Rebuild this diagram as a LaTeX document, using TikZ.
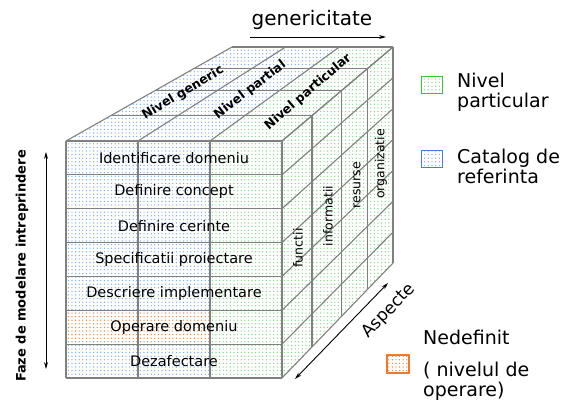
\documentclass[tikz,border=0pt]{standalone}
\usepackage{fontspec}
\setmainfont{DejaVu Sans}
\usepackage{tikz}
\usetikzlibrary{calc,patterns,arrows.meta}
\definecolor{catblue}{RGB}{110,165,240}
\definecolor{partgreen}{RGB}{120,212,120}
\definecolor{undeforange}{RGB}{240,120,40}
\definecolor{legblue}{RGB}{70,120,240}
\definecolor{leggreen}{RGB}{50,200,50}
\pgfdeclarepatternformonly{celldots}{\pgfqpoint{-1pt}{-1pt}}{\pgfqpoint{1pt}{1pt}}{\pgfqpoint{3.6pt}{3.6pt}}%
  {\pgfpathcircle{\pgfqpoint{0pt}{0pt}}{.68pt}\pgfusepath{fill}}

\begin{document}
\begin{tikzpicture}[x=1pt,y=-1pt,
  edge/.style={draw=black!50,line width=1.1pt},
  catalog/.style={pattern=celldots,pattern color=catblue},
  partic/.style={pattern=celldots,pattern color=partgreen},
  undef/.style={pattern=celldots,pattern color=undeforange},
  phase/.style={font=\fontsize{14.5}{16}\selectfont},
  level/.style={font=\bfseries\fontsize{12.5}{14}\selectfont},
  aspect/.style={font=\fontsize{12.5}{14}\selectfont,rotate=90},
  legtext/.style={font=\fontsize{19}{20}\selectfont,align=left,anchor=north west,inner sep=0pt},
  legbox/.style={minimum width=21pt,minimum height=17pt,inner sep=0pt,line width=1.3pt},
  >={Stealth[length=7pt,width=4pt]}]
  \useasboundingbox (0,0) rectangle (564,403);

  % Corners of the block
  \coordinate (ftl) at (66,141);
  \coordinate (ftr) at (282,141);
  \coordinate (fbl) at (66,378);
  \coordinate (fbr) at (282,378);
  \coordinate (btl) at (232,47);
  \coordinate (btr) at (393,47);
  \coordinate (bbr) at (393,263);

  % Fill the faces
  \fill[catalog] (ftl) -- ($(ftl)!2/3!(ftr)$) -- ($(btl)!2/3!(btr)$) -- (btl) -- cycle;
  \fill[partic] ($(ftl)!2/3!(ftr)$) -- (ftr) -- (btr) -- ($(btl)!2/3!(btr)$) -- cycle;
  \fill[partic] (ftr) -- (fbr) -- (bbr) -- (btr) -- cycle;
  \fill[catalog] (ftl) rectangle ($(fbl)!2/3!(fbr)$);
  \fill[partic] ($(ftl)!2/3!(ftr)$) rectangle (fbr);
  \fill[white] (66,{141+5*237/7}) rectangle (210,{141+6*237/7});
  \fill[undef] (66,{141+5*237/7}) rectangle (210,{141+6*237/7});

  % Grid of the top face
  \foreach \t in {0,0.27,0.54,0.77,1}
    \draw[edge] ($(ftl)!\t!(btl)$) -- ($(ftr)!\t!(btr)$);
  \foreach \c in {0,1/3,2/3,1}
    \draw[edge] ($(ftl)!\c!(ftr)$) -- ($(btl)!\c!(btr)$);

  % Grid of the right face
  \foreach \t in {0,0.27,0.54,0.77,1}
    \draw[edge] ($(ftr)!\t!(btr)$) -- ($(fbr)!\t!(bbr)$);
  \foreach \r in {0,...,7}
    \draw[edge] ($(ftr)!\r/7!(fbr)$) -- ($(btr)!\r/7!(bbr)$);

  % Grid of the front face
  \foreach \r in {0,...,7}
    \draw[edge] ($(ftl)!\r/7!(fbl)$) -- ($(ftr)!\r/7!(fbr)$);
  \foreach \c in {0,1/3,2/3,1}
    \draw[edge] ($(ftl)!\c!(ftr)$) -- ($(fbl)!\c!(fbr)$);

  % Phases
  \foreach \txt [count=\i] in {Identificare domeniu,Definire concept,Definire cerinte,
      Specificatii proiectare,Descriere implementare,Operare domeniu,Dezafectare}
    \node[phase] (phase\i) at (174,{141+(\i-0.5)*237/7}) {\txt};

  % Levels
  \node[level,rotate=31] (generic) at (183,93) {Nivel generic};
  \node[level,rotate=37.5] (partial) at (250,90) {Nivel partial};
  \node[level,rotate=40.5] (particular) at (308,92) {Nivel particular};

  % Aspects
  \node[aspect] (functii) at (298,248) {functii};
  \node[aspect] (informatii) at (328,216) {informatii};
  \node[aspect] (resurse) at (357,185) {resurse};
  \node[aspect] (organizatie) at (381,164) {organizatie};

  % Axes
  \node[font=\fontsize{20}{22}\selectfont] (genlabel) at (312,20) {genericitate};
  \coordinate (gen-a) at (250,37);
  \coordinate (gen-b) at (386,37);
  \draw[->,line width=0.9pt] (gen-a) -- (gen-b);

  \node[font=\bfseries\fontsize{13}{15}\selectfont,rotate=90] (fazelabel) at (22,266) {Faze de modelare intreprindere};
  \coordinate (faze-a) at (46,152);
  \coordinate (faze-b) at (46,369);
  \draw[<->,line width=0.9pt] (faze-a) -- (faze-b);

  \node[font=\fontsize{17}{19}\selectfont,rotate=46] (asplabel) at (389,311) {Aspecte};
  \coordinate (asp-a) at (295,379);
  \coordinate (asp-b) at (388,283);
  \draw[<->,line width=0.9pt] (asp-a) -- (asp-b);

  % Legend
  \node[legbox,draw=leggreen,partic] (legpart) at (432,85) {};
  \node[legtext] (legparttext) at (457,73) {Nivel\\particular};
  \node[legbox,draw=legblue,catalog] (legcat) at (432,159) {};
  \node[legtext] (legcattext) at (457,149) {Catalog de\\referinta};
  \node[legbox,draw=undeforange,undef,minimum width=22pt,minimum height=18pt] (legundef) at (398,364) {};
  \node[legtext] (legundeftext) at (423,330) {Nedefinit};
  \node[legtext] (legopertext) at (423,362) {( nivelul de\\operare)};
\end{tikzpicture}
\end{document}
